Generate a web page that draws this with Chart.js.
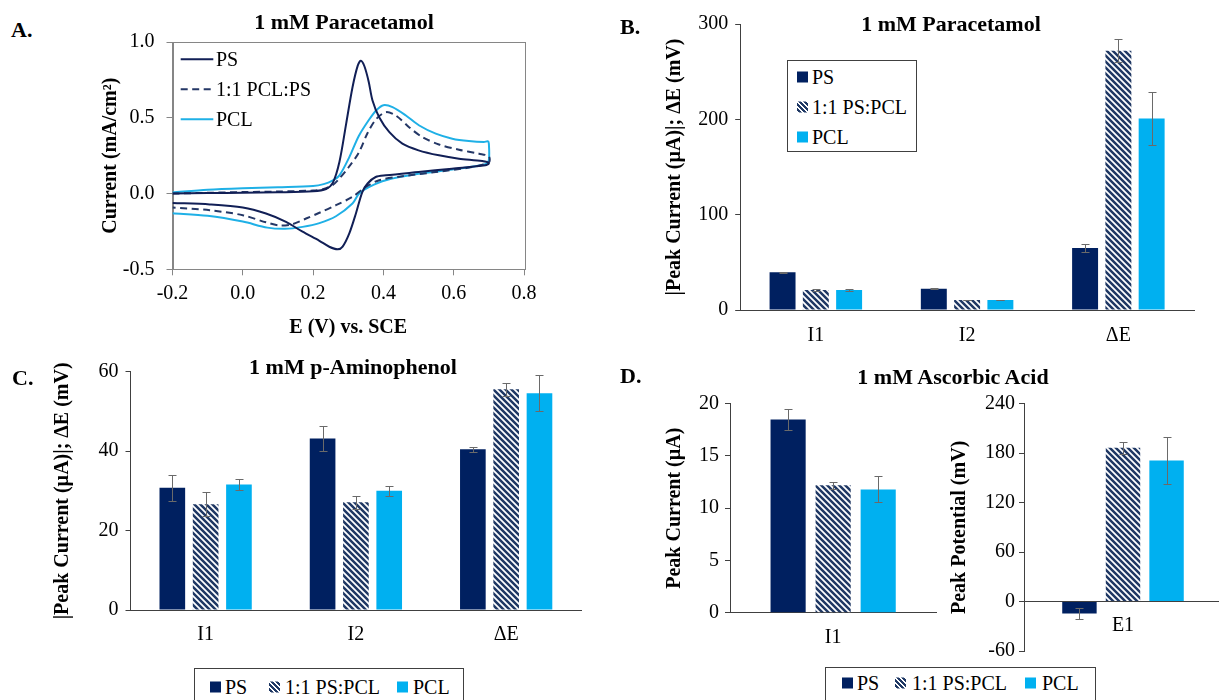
<!DOCTYPE html>
<html>
<head>
<meta charset="utf-8">
<script src="https://cdn.jsdelivr.net/npm/chart.js@4.4.1/dist/chart.umd.min.js"></script>
<style>
html,body{margin:0;padding:0;background:#fff;}
body{position:relative;width:1219px;height:700px;overflow:hidden;font-family:'Liberation Serif','Times New Roman',serif;color:#000;}
canvas{position:absolute;}
.ttl{position:absolute;transform:translate(-50%,-50%);font-weight:bold;font-size:22px;white-space:nowrap;line-height:1;}
.pl{position:absolute;transform:translateY(-50%);font-weight:bold;font-size:22px;line-height:1;}
.lg{position:absolute;border:1px solid #404040;background:#fff;box-sizing:border-box;}
.li{position:absolute;transform:translateY(-50%);font-size:20px;white-space:nowrap;line-height:1;}
.sq{position:absolute;width:11px;height:11px;transform:translateY(-50%);}
.hat{background:repeating-linear-gradient(45deg,#ffffff 0px,#ffffff 1.4px,#1f3864 1.4px,#1f3864 3.6px);}
</style>
</head>
<body>
<canvas id="cA"></canvas>
<canvas id="cB"></canvas>
<canvas id="cC"></canvas>
<canvas id="cDL"></canvas>
<canvas id="cDR"></canvas>

<div class="pl" style="left:11px;top:30px">A.</div>
<div class="pl" style="left:620px;top:27px">B.</div>
<div class="pl" style="left:12px;top:378px">C.</div>
<div class="pl" style="left:620px;top:376px">D.</div>

<div class="ttl" style="left:344px;top:22px">1 mM Paracetamol</div>
<div class="ttl" style="left:951px;top:24px">1 mM Paracetamol</div>
<div class="ttl" style="left:353px;top:367px">1 mM p-Aminophenol</div>
<div class="ttl" style="left:953px;top:377px">1 mM Ascorbic Acid</div>

<!-- legend A -->
<svg style="position:absolute;left:180px;top:50px" width="36" height="80">
  <line x1="0.7" y1="9.3" x2="33.3" y2="9.3" stroke="#111f56" stroke-width="2"/>
  <line x1="0.7" y1="39.3" x2="33.3" y2="39.3" stroke="#243766" stroke-width="2" stroke-dasharray="7,4.5"/>
  <line x1="0.7" y1="69.3" x2="33.3" y2="69.3" stroke="#1fb0e6" stroke-width="2"/>
</svg>
<div class="li" style="left:216px;top:59px">PS</div>
<div class="li" style="left:216px;top:89px">1:1 PCL:PS</div>
<div class="li" style="left:216px;top:119px">PCL</div>

<!-- legend B -->
<div class="lg" style="left:787px;top:60px;width:130px;height:92px"></div>
<div class="sq" style="left:797px;top:77px;background:#002060"></div>
<div class="li" style="left:812px;top:77px">PS</div>
<div class="sq hat" style="left:797px;top:107px"></div>
<div class="li" style="left:812px;top:107px">1:1 PS:PCL</div>
<div class="sq" style="left:797px;top:137px;background:#00b0f0"></div>
<div class="li" style="left:812px;top:137px">PCL</div>

<!-- legend C -->
<div class="lg" style="left:194px;top:668px;width:270px;height:50px"></div>
<div class="sq" style="left:210px;top:687px;background:#002060"></div>
<div class="li" style="left:225px;top:687px">PS</div>
<div class="sq hat" style="left:269px;top:687px"></div>
<div class="li" style="left:285px;top:687px">1:1 PS:PCL</div>
<div class="sq" style="left:397px;top:687px;background:#00b0f0"></div>
<div class="li" style="left:413px;top:687px">PCL</div>

<!-- legend D -->
<div class="lg" style="left:825px;top:667px;width:271px;height:50px"></div>
<div class="sq" style="left:842px;top:683px;background:#002060"></div>
<div class="li" style="left:857px;top:683px">PS</div>
<div class="sq hat" style="left:895px;top:683px"></div>
<div class="li" style="left:912px;top:683px">1:1 PS:PCL</div>
<div class="sq" style="left:1025px;top:683px;background:#00b0f0"></div>
<div class="li" style="left:1042px;top:683px">PCL</div>

<script>
// ---------------- DATA ----------------
// Panel A: cyclic voltammograms (E in V vs SCE, current in mA/cm2), forward then reverse scan
const cvNames = ['PS', '1:1 PCL:PS', 'PCL'];
const psE  = [-0.2, -0.1, 0.0, 0.1, 0.2, 0.237, 0.256, 0.275, 0.294, 0.312, 0.327, 0.336, 0.346, 0.358, 0.369, 0.388, 0.417, 0.454, 0.5, 0.558, 0.615, 0.681, 0.7,
              0.69, 0.595, 0.5, 0.407, 0.378, 0.355, 0.34, 0.322, 0.303, 0.284, 0.27, 0.246, 0.218, 0.17, 0.123, 0.066, 0.0, -0.094, -0.2];
const psI  = [0.0, 0.003, 0.005, 0.008, 0.015, 0.03, 0.07, 0.21, 0.46, 0.70, 0.844, 0.877, 0.84, 0.74, 0.614, 0.504, 0.405, 0.329, 0.285, 0.252, 0.23, 0.214, 0.2,
              0.186, 0.164, 0.142, 0.12, 0.109, 0.066, 0.01, -0.13, -0.263, -0.35, -0.368, -0.351, -0.312, -0.252, -0.187, -0.132, -0.092, -0.072, -0.062];
const mixE = [-0.2, -0.1, 0.0, 0.1, 0.2, 0.23, 0.255, 0.275, 0.3, 0.33, 0.355, 0.379, 0.407, 0.435, 0.473, 0.511, 0.558, 0.615, 0.672, 0.7,
              0.7, 0.643, 0.549, 0.454, 0.388, 0.35, 0.312, 0.265, 0.218, 0.18, 0.142, 0.104, 0.066, 0.0, -0.094, -0.2];
const mixI = [0.0, 0.005, 0.01, 0.013, 0.02, 0.03, 0.055, 0.1, 0.17, 0.27, 0.4, 0.49, 0.537, 0.515, 0.438, 0.372, 0.324, 0.289, 0.263, 0.245,
              0.205, 0.171, 0.142, 0.114, 0.088, 0.044, -0.022, -0.077, -0.127, -0.165, -0.202, -0.21, -0.19, -0.143, -0.11, -0.092];
const pclE = [-0.2, -0.1, 0.0, 0.1, 0.2, 0.23, 0.255, 0.275, 0.303, 0.33, 0.36, 0.38, 0.40, 0.426, 0.464, 0.502, 0.549, 0.596, 0.643, 0.686, 0.697, 0.7,
              0.7, 0.69, 0.596, 0.5, 0.407, 0.36, 0.331, 0.312, 0.265, 0.218, 0.17, 0.12, 0.07, 0.0, -0.1, -0.2];
const pclI = [0.008, 0.025, 0.035, 0.042, 0.05, 0.062, 0.085, 0.12, 0.24, 0.38, 0.49, 0.55, 0.583, 0.57, 0.515, 0.449, 0.395, 0.362, 0.346, 0.34, 0.345, 0.33,
              0.22, 0.193, 0.158, 0.13, 0.088, 0.044, 0.0, -0.066, -0.15, -0.195, -0.22, -0.233, -0.225, -0.185, -0.147, -0.13];
const aXTicks = [-0.2, 0.0, 0.2, 0.4, 0.6, 0.8];
const aYTicks = [-0.5, 0.0, 0.5, 1.0];

// Bar panels
const barSeries = ['PS', '1:1 PS:PCL', 'PCL'];

const bCats   = ['I1', 'I2', 'ΔE'];
const bPS     = [39.5, 22.4, 65];
const bMix    = [21, 10.5, 272];
const bPCL    = [21, 10.5, 201];
const bPSErr  = [0.8, 0.6, 4];
const bMixErr = [1, 0.5, 12];
const bPCLErr = [0.8, 0.5, 28];
const bYTicks = [0, 100, 200, 300];

const cCats   = ['I1', 'I2', 'ΔE'];
const cPS     = [30.8, 43.2, 40.5];
const cMix    = [26.6, 27.1, 55.6];
const cPCL    = [31.6, 30.0, 54.6];
const cPSErr  = [3.3, 3.2, 0.6];
const cMixErr = [3.0, 1.6, 1.6];
const cPCLErr = [1.3, 1.2, 4.6];
const cYTicks = [0, 20, 40, 60];

const dlCats   = ['I1'];
const dlPS     = [18.5];
const dlMix    = [12.2];
const dlPCL    = [11.8];
const dlPSErr  = [1.0];
const dlMixErr = [0.35];
const dlPCLErr = [1.25];
const dlYTicks = [0, 5, 10, 15, 20];

const drCats   = ['E1'];
const drPS     = [-14.5];
const drMix    = [186.5];
const drPCL    = [171];
const drPSErr  = [7];
const drMixErr = [7];
const drPCLErr = [28.5];
const drYTicks = [-60, 0, 60, 120, 180, 240];

// ---------------- STYLE ----------------
const NAVY = '#002060', CYAN = '#00b0f0', HATCH = '#1f3864';
const AXIS = '#404040', FRAME = '#868686', ERR = '#6a6a6a';
const LINE_PS = '#111f56', LINE_MIX = '#243766', LINE_PCL = '#1fb0e6';

Chart.defaults.font.family = "'Liberation Serif','Times New Roman',serif";
Chart.defaults.font.size = 20;
Chart.defaults.color = '#000';
Chart.defaults.animation = false;
Chart.defaults.plugins.legend.display = false;
Chart.defaults.plugins.tooltip.enabled = false;

function makeHatch() {
  const s = 6, c = document.createElement('canvas');
  c.width = s; c.height = s;
  const g = c.getContext('2d');
  g.fillStyle = '#ffffff'; g.fillRect(0, 0, s, s);
  g.strokeStyle = HATCH; g.lineWidth = 2.5;
  g.beginPath();
  for (const k of [-s, 0, s]) { g.moveTo(k - 1, -1); g.lineTo(k + s + 1, s + 1); }
  g.stroke();
  return g.createPattern(c, 'repeat');
}
const fills = [NAVY, makeHatch(), CYAN];

const errorBars = {
  id: 'errorBars',
  afterDatasetsDraw(chart) {
    const ctx = chart.ctx;
    ctx.save();
    ctx.strokeStyle = ERR; ctx.lineWidth = 1;
    chart.data.datasets.forEach((ds, di) => {
      const meta = chart.getDatasetMeta(di);
      const ys = chart.scales[meta.yAxisID];
      meta.data.forEach((el, i) => {
        const v = ds.data[i], e = ds.errors[i];
        const yt = Math.round(ys.getPixelForValue(v + e)) + 0.5;
        const yb = Math.round(ys.getPixelForValue(v - e)) + 0.5;
        const x = Math.round(el.x) + 0.5;
        ctx.beginPath();
        ctx.moveTo(x, yt); ctx.lineTo(x, yb);
        ctx.moveTo(x - 4, yt); ctx.lineTo(x + 4, yt);
        ctx.moveTo(x - 4, yb); ctx.lineTo(x + 4, yb);
        ctx.stroke();
      });
    });
    ctx.restore();
  }
};

const frame = {
  id: 'frame',
  beforeDatasetsDraw(chart) {
    const {left, top, right, bottom} = chart.chartArea;
    const c = chart.ctx;
    c.save(); c.strokeStyle = FRAME; c.lineWidth = 1;
    c.strokeRect(Math.round(left) + 0.5, Math.round(top) + 0.5, Math.round(right - left), Math.round(bottom - top));
    c.restore();
  }
};

function placeCanvas(id, box) {
  const cv = document.getElementById(id);
  cv.width = box.w; cv.height = box.h;
  cv.style.left = box.x + 'px'; cv.style.top = box.y + 'px';
  return cv;
}
const LH = 24;

// ---------------- PANEL A ----------------
(function () {
  const box = {x: 60, y: 0, w: 500, h: 345};
  const area = {l: 172.5, t: 42, r: 524, b: 269.3};
  const xy = (E, I) => E.map((e, i) => ({x: e, y: I[i]}));
  const common = {showLine: true, pointRadius: 0, borderWidth: 2, tension: 0.3, fill: false};
  new Chart(placeCanvas('cA', box), {
    type: 'scatter',
    data: {
      datasets: [
        Object.assign({label: cvNames[0], data: xy(psE, psI), borderColor: LINE_PS}, common),
        Object.assign({label: cvNames[1], data: xy(mixE, mixI), borderColor: LINE_MIX, borderDash: [7, 4.5]}, common),
        Object.assign({label: cvNames[2], data: xy(pclE, pclI), borderColor: LINE_PCL}, common)
      ]
    },
    options: {
      responsive: false,
      layout: {padding: {left: 0, top: area.t - box.y, right: box.x + box.w - area.r, bottom: 0}},
      scales: {
        x: {
          type: 'linear', min: aXTicks[0], max: aXTicks[aXTicks.length - 1],
          afterBuildTicks: s => { s.ticks = aXTicks.map(v => ({value: v})); },
          grid: {drawOnChartArea: false, drawTicks: true, tickLength: 6, color: FRAME},
          border: {display: true, color: FRAME},
          ticks: {padding: 6, callback: v => Number(v).toFixed(1)},
          title: {display: true, text: 'E (V) vs. SCE', font: {size: 20, weight: 'bold'}, padding: {top: 0, bottom: 5}},
          afterFit: s => { s.height = box.y + box.h - area.b; }
        },
        y: {
          type: 'linear', min: aYTicks[0], max: aYTicks[aYTicks.length - 1],
          afterBuildTicks: s => { s.ticks = aYTicks.map(v => ({value: v})); },
          grid: {drawOnChartArea: false, drawTicks: true, tickLength: 6, color: FRAME},
          border: {display: true, color: FRAME},
          ticks: {padding: 12, callback: v => Number(v).toFixed(1)},
          title: {display: true, text: 'Current (mA/cm²)', font: {size: 20, weight: 'bold'}, padding: {top: 110.7 - box.x - LH / 2, bottom: 0}},
          afterFit: s => { s.width = area.l - box.x; }
        }
      }
    },
    plugins: [frame]
  });
})();

// ---------------- BAR PANELS ----------------
function barChart(id, box, area, cfg) {
  const zero = !!cfg.zeroAxis;
  const yT = cfg.yTicks;
  return new Chart(placeCanvas(id, box), {
    type: 'bar',
    data: {
      labels: cfg.labels,
      datasets: cfg.values.map((vals, i) => ({
        label: barSeries[i], data: vals, errors: cfg.errors[i],
        backgroundColor: fills[i], borderWidth: 0,
        categoryPercentage: cfg.cat, barPercentage: cfg.bar
      }))
    },
    options: {
      responsive: false,
      layout: {padding: {left: 0, top: area.t - box.y, right: box.x + box.w - area.r, bottom: zero ? box.y + box.h - area.b : 0}},
      scales: {
        x: Object.assign({
          position: zero ? {y: 0} : 'bottom',
          grid: {display: false, drawTicks: false},
          border: {display: true, color: AXIS, width: 1},
          ticks: {padding: cfg.xPad}
        }, zero ? {} : {afterFit: s => { s.height = box.y + box.h - area.b; }}),
        y: {
          min: yT[0], max: yT[yT.length - 1],
          afterBuildTicks: s => { s.ticks = yT.map(v => ({value: v})); },
          grid: {drawOnChartArea: false, drawTicks: true, tickLength: 5, color: AXIS},
          border: {display: true, color: AXIS},
          ticks: {padding: cfg.yPad, callback: v => String(v)},
          title: {display: true, text: cfg.yTitle, font: {size: 20, weight: 'bold'}, padding: {top: cfg.yTitleX - box.x - LH / 2, bottom: 0}},
          afterFit: s => { s.width = area.l - box.x; }
        }
      }
    },
    plugins: [errorBars]
  });
}

barChart('cB', {x: 600, y: 0, w: 610, h: 345}, {l: 740.2, t: 24, r: 1194, b: 310}, {
  labels: bCats, values: [bPS, bMix, bPCL], errors: [bPSErr, bMixErr, bPCLErr],
  yTicks: bYTicks, yTitle: '|Peak Current (µA)|; ΔE (mV)', yTitleX: 675,
  xPad: 14, yPad: 7, cat: 0.66, bar: 0.78
});

barChart('cC', {x: 0, y: 340, w: 600, h: 320}, {l: 130.5, t: 371.7, r: 581.3, b: 610}, {
  labels: cCats, values: [cPS, cMix, cPCL], errors: [cPSErr, cMixErr, cPCLErr],
  yTicks: cYTicks, yTitle: '|Peak Current (µA)|; ΔE (mV)', yTitleX: 63.3,
  xPad: 13, yPad: 7, cat: 0.665, bar: 0.77
});

barChart('cDL', {x: 620, y: 380, w: 330, h: 280}, {l: 730, t: 403.7, r: 936.3, b: 612.7}, {
  labels: dlCats, values: [dlPS, dlMix, dlPCL], errors: [dlPSErr, dlMixErr, dlPCLErr],
  yTicks: dlYTicks, yTitle: 'Peak Current (µA)', yTitleX: 674.6,
  xPad: 13, yPad: 6, cat: 0.655, bar: 0.78
});

barChart('cDR', {x: 940, y: 380, w: 300, h: 290}, {l: 1024, t: 403.7, r: 1222, b: 651}, {
  labels: drCats, values: [drPS, drMix, drPCL], errors: [drPSErr, drMixErr, drPCLErr],
  yTicks: drYTicks, yTitle: 'Peak Potential (mV)', yTitleX: 960,
  xPad: 12, yPad: 4, cat: 0.66, bar: 0.79, zeroAxis: true
});
</script>
</body>
</html>
